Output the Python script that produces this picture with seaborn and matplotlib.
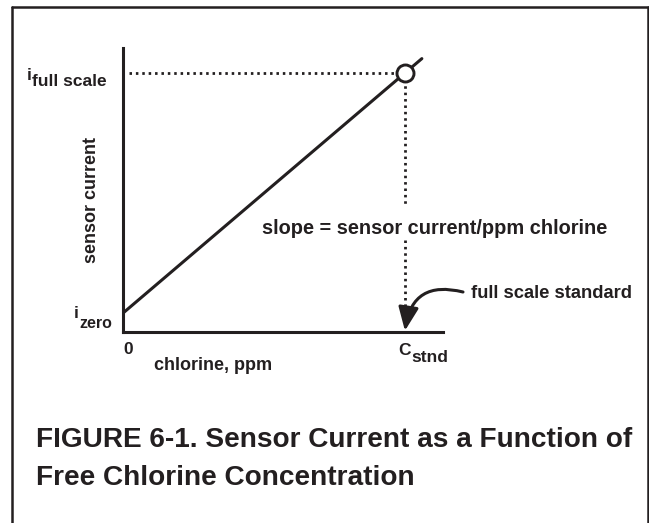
import matplotlib
matplotlib.use("Agg")
import matplotlib.pyplot as plt
from matplotlib.lines import Line2D
import pandas as pd
import seaborn as sns

# Calibration line: chlorine concentration (ppm, relative to standard) vs sensor current
conc = [0.0, 1.06]
current = [0.073, 1.056]

# Full-scale standard point
c_stnd = [1.0]
i_full = [1.0]
i_zero = 0.073

x_max = 1.135
y_max = 1.097

sns.set_style("white")
plt.rcParams["font.family"] = ["Liberation Sans", "DejaVu Sans"]
plt.rcParams["font.weight"] = "bold"

INK = "#231f20"
W, H = 649, 523
fig = plt.figure(figsize=(W / 100, H / 100), dpi=100)


def fx(px):
    return px / W


def fy(py):
    return 1 - py / H


ax = fig.add_axes([fx(123), fy(332), fx(443) - fx(123), fy(48) - fy(332)])

line_df = pd.DataFrame({"conc": conc, "current": current})
pt_df = pd.DataFrame({"conc": c_stnd, "current": i_full})

sns.lineplot(data=line_df, x="conc", y="current", ax=ax, color=INK, lw=2.2,
             zorder=2)

# Dotted guide lines to the full-scale point (vertical one broken for the slope label)
dots = dict(color=INK, lw=2.0, linestyle=(0, (0.9, 1.4)), zorder=1)
ax.plot([0.02, c_stnd[0]], [i_full[0], i_full[0]], **dots)
ax.plot([c_stnd[0], c_stnd[0]], [i_full[0], 0.485], **dots)
ax.plot([c_stnd[0], c_stnd[0]], [0.355, 0.08], **dots)

sns.scatterplot(data=pt_df, x="conc", y="current", ax=ax, s=150,
                facecolor="white", edgecolor=INK, linewidth=2.1, zorder=3)

ax.set_xlim(0, x_max)
ax.set_ylim(0, y_max)
ax.set_xticks([])
ax.set_yticks([])
ax.set_xlabel("")
ax.set_ylabel("")
sns.despine(ax=ax)
for s in ("left", "bottom"):
    ax.spines[s].set_linewidth(2.2)
    ax.spines[s].set_color(INK)
ax.patch.set_alpha(0)

# Curved arrow to the full scale standard
ax.annotate("", xy=(c_stnd[0], 0.005), xycoords="data",
            xytext=(fx(463), fy(292)), textcoords="figure fraction",
            arrowprops=dict(arrowstyle="-|>,head_length=0.65,head_width=0.28",
                            connectionstyle="arc3,rad=0.55",
                            lw=2.2, color=INK, mutation_scale=22,
                            shrinkA=0, shrinkB=0))

fs = 12.5
# Axis annotations
fig.text(fx(27), fy(80), "i", fontsize=fs, color=INK, ha="left",
         va="baseline")
fig.text(fx(32), fy(86), "full scale", fontsize=fs, color=INK, ha="left",
         va="baseline")
fig.text(fx(74), fy(318), "i", fontsize=fs, color=INK, ha="left",
         va="baseline")
fig.text(fx(79), fy(328), "zero", fontsize=11.5, color=INK, ha="left",
         va="baseline")
fig.text(fx(92), fy(200), "sensor current", fontsize=13, color=INK,
         rotation=90, ha="center", va="center")
fig.text(fx(128), fy(350), "0", fontsize=fs, color=INK, ha="center",
         va="center")
fig.text(fx(213), fy(366), "chlorine, ppm", fontsize=13, color=INK,
         ha="center", va="center")
fig.text(fx(398), fy(355), "C", fontsize=fs, color=INK, ha="left",
         va="baseline")
fig.text(fx(411), fy(362), "stnd", fontsize=fs, color=INK, ha="left",
         va="baseline")
fig.text(fx(262), fy(228), "slope = sensor current/ppm chlorine",
         fontsize=14.4, color=INK, ha="left", va="center")
fig.text(fx(471), fy(293), "full scale standard", fontsize=13.2, color=INK,
         ha="left", va="center")

# Caption
fig.text(fx(36), fy(440), "FIGURE 6-1. Sensor Current as a Function of",
         fontsize=20.2, color=INK, ha="left", va="center")
fig.text(fx(36), fy(478), "Free Chlorine Concentration",
         fontsize=20.2, color=INK, ha="left", va="center")

# Border of the figure panel
for xs, ys in (([fx(12), fx(12)], [fy(7), 0]),
               ([fx(12), fx(648)], [fy(7), fy(7)]),
               ([fx(647.5), fx(647.5)], [fy(7), 0])):
    fig.add_artist(Line2D(xs, ys, color=INK, lw=1.8,
                          transform=fig.transFigure))

fig.savefig("out.png", dpi=100)
